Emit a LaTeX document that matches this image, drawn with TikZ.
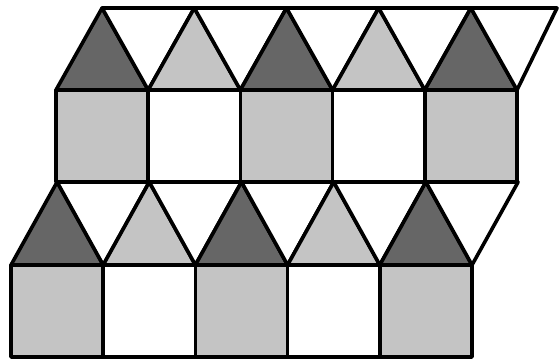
\documentclass[tikz,border=0pt]{standalone}
\colorlet{darkfill}{black!60}
\colorlet{lightfill}{black!23}
\begin{document}
\begin{tikzpicture}[x=1pt,y=-1pt,line width=3.6pt,line join=round,
  tile/.style={draw=black},
  darktri/.style={tile,fill=darkfill},
  lighttri/.style={tile,fill=lightfill},
  greysq/.style={tile,fill=lightfill},
  whitesh/.style={tile,fill=white}]
\useasboundingbox (0,0) rectangle (560,360);
\def\s{92.2}
% top row
\foreach \i in {0,...,4}{
  \pgfmathsetmacro{\a}{56+\i*\s}
  \pgfmathsetmacro{\m}{56+(\i+0.5)*\s}
  \pgfmathsetmacro{\b}{56+(\i+1)*\s}
  \pgfmathsetmacro{\c}{min(56+(\i+1.5)*\s,557)}
  \ifodd\i
    \path[whitesh] (\a,90) rectangle (\b,182);
    \path[lighttri] (\a,90) -- (\m,8) -- (\b,90) -- cycle;
  \else
    \path[greysq] (\a,90) rectangle (\b,182);
    \path[darktri] (\a,90) -- (\m,8) -- (\b,90) -- cycle;
  \fi
  \path[whitesh] (\m,8) -- (\c,8) -- (\b,90) -- cycle;
}
% bottom row
\foreach \i in {0,...,4}{
  \pgfmathsetmacro{\a}{11+\i*\s}
  \pgfmathsetmacro{\m}{11+(\i+0.5)*\s}
  \pgfmathsetmacro{\b}{11+(\i+1)*\s}
  \pgfmathsetmacro{\c}{11+(\i+1.5)*\s}
  \ifodd\i
    \path[whitesh] (\a,265) rectangle (\b,357);
    \path[lighttri] (\a,265) -- (\m,182) -- (\b,265) -- cycle;
  \else
    \path[greysq] (\a,265) rectangle (\b,357);
    \path[darktri] (\a,265) -- (\m,182) -- (\b,265) -- cycle;
  \fi
  \path[whitesh] (\m,182) -- (\c,182) -- (\b,265) -- cycle;
}
\end{tikzpicture}
\end{document}
